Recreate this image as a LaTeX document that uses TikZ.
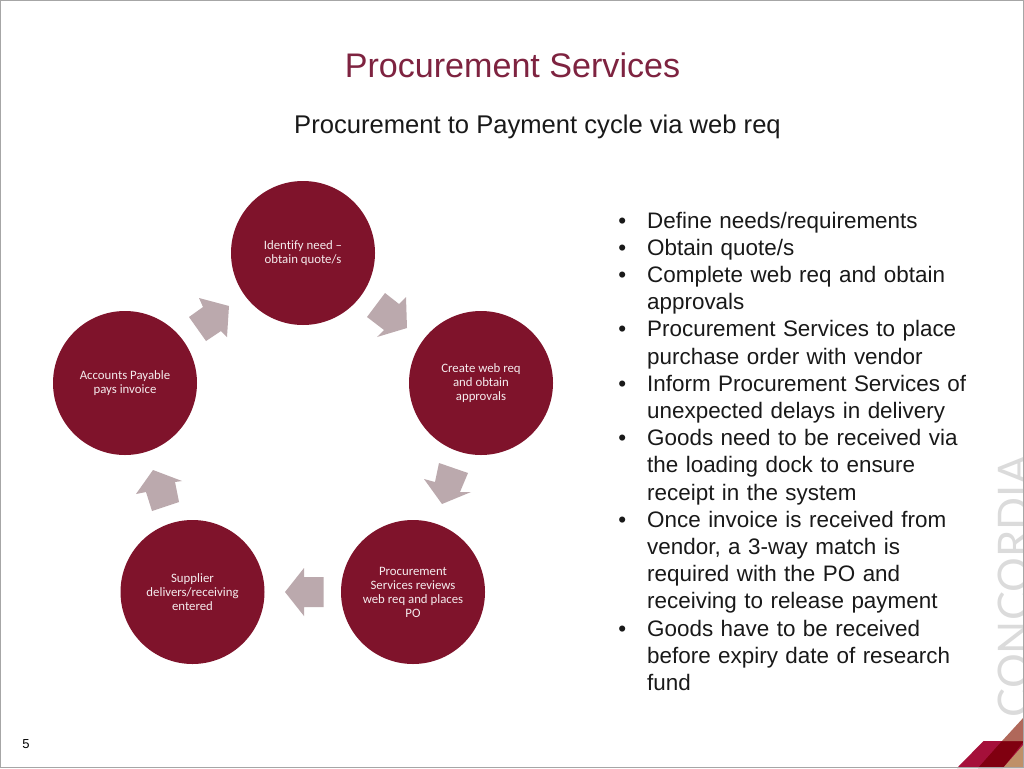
\documentclass[tikz,border=0pt]{standalone}
\usepackage{fontspec}
\setmainfont{Liberation Sans}
\newfontfamily\carlito[Ligatures=NoCommon]{Carlito}
\newfontfamily\logofont{Lato}
\definecolor{wine}{HTML}{7F132B}
\definecolor{flow}{HTML}{BBA9AD}
\definecolor{titlec}{HTML}{7E2340}
\definecolor{cornercrimson}{HTML}{A5103A}
\definecolor{cornerdark}{HTML}{800010}
\definecolor{cornertana}{HTML}{B0685A}
\definecolor{cornertanb}{HTML}{BF9068}
\tikzset{
  stage/.style={circle,fill=wine,minimum size=144pt,inner sep=0pt,text=white!92!wine,align=center,font=\carlito\fontsize{12.8}{14}\selectfont},
  flowarrow/.style={fill=flow,draw=none},
  bullet/.style={anchor=north west,inner sep=0pt,font=\fontsize{22.42}{27.2}\selectfont,text=black!90,align=left}
}
\begin{document}
\begin{tikzpicture}[x=1pt,y=-1pt]
\useasboundingbox (0,0) rectangle (1024,768);
\fill[white] (0,0) rectangle (1024,768);
% logo
\begin{scope}
\clip (0,0) rectangle (1023,768);
\node[rotate=90,anchor=base,inner sep=0pt,text=black!14,font=\logofont\fontsize{43.5}{44}\selectfont] (logo) at (1029,586.5) {CONCORDIA};
\end{scope}
% corner
\fill[cornercrimson] (957,768) -- (983.5,741) -- (1024,741) -- (1024,768) -- cycle;
\fill[cornerdark] (978,768) -- (1002,741) -- (1024,741) -- (1003,768) -- cycle;
\fill[cornertanb] (1003,768) -- (1024,744) -- (1024,768) -- cycle;
\fill[cornertana] (1002,741) -- (1024,717) -- (1024,741) -- cycle;
\draw[black!35,line width=1pt] (0.4,0.4) rectangle (1023.6,767.6);
% titles
\node[text=titlec,font=\fontsize{34.1}{38}\selectfont,inner sep=0pt] (title) at (512.5,65.5) {Procurement Services};
\node[font=\fontsize{25.6}{30}\selectfont,inner sep=0pt,text=black!90] (sub) at (537.5,127) {Procurement to Payment cycle via web req};
% stages
\node[stage] (a) at (303,253) {Identify need –\\obtain quote/s};
\node[stage] (b) at (481,383) {Create web req\\and obtain\\approvals};
\node[stage] (c) at (413,592) {Procurement\\Services reviews\\web req and places\\PO};
\node[stage] (d) at (192.5,592) {Supplier\\delivers/receiving\\entered};
\node[stage] (e) at (125,383) {Accounts Payable\\pays invoice};
% arrows
\fill[flowarrow] (199,298) -- (229,306) -- (227,337) -- (221,331) -- (206,341) -- (189,317) -- (203,307) -- cycle;
\fill[flowarrow] (407,328) -- (406,297) -- (399,304) -- (385,293) -- (367,317) -- (384,330) -- (377,337) -- cycle;
\fill[flowarrow] (442,504) -- (424,479) -- (435,482) -- (439,463) -- (468,473) -- (460,492) -- (471,492) -- cycle;
\fill[flowarrow] (285,592) -- (304,568) -- (304,577) -- (323.5,577) -- (323.5,607) -- (304,607) -- (304,616) -- cycle;
\fill[flowarrow] (153,470) -- (182,481) -- (175,482) -- (179,502) -- (152,511) -- (146,492) -- (136,494) -- cycle;
% bullets
\node[bullet,text width=400pt] (list) at (616,200.7) {%
\begin{list}{\textbullet}{\leftmargin=31pt\labelwidth=10pt\labelsep=21pt\itemsep=0pt\parsep=0pt\topsep=0pt\partopsep=0pt\itemindent=0pt}
\item Define needs/requirements
\item Obtain quote/s
\item Complete web req and obtain\\approvals
\item Procurement Services to place\\purchase order with vendor
\item Inform Procurement Services of\\unexpected delays in delivery
\item Goods need to be received via\\the loading dock to ensure\\receipt in the system
\item Once invoice is received from\\vendor, a 3-way match is\\required with the PO and\\receiving to release payment
\item Goods have to be received\\before expiry date of research\\fund
\end{list}};
\node[font=\fontsize{13}{14}\selectfont,inner sep=0pt] (pg) at (26,744.5) {5};
\end{tikzpicture}
\end{document}
